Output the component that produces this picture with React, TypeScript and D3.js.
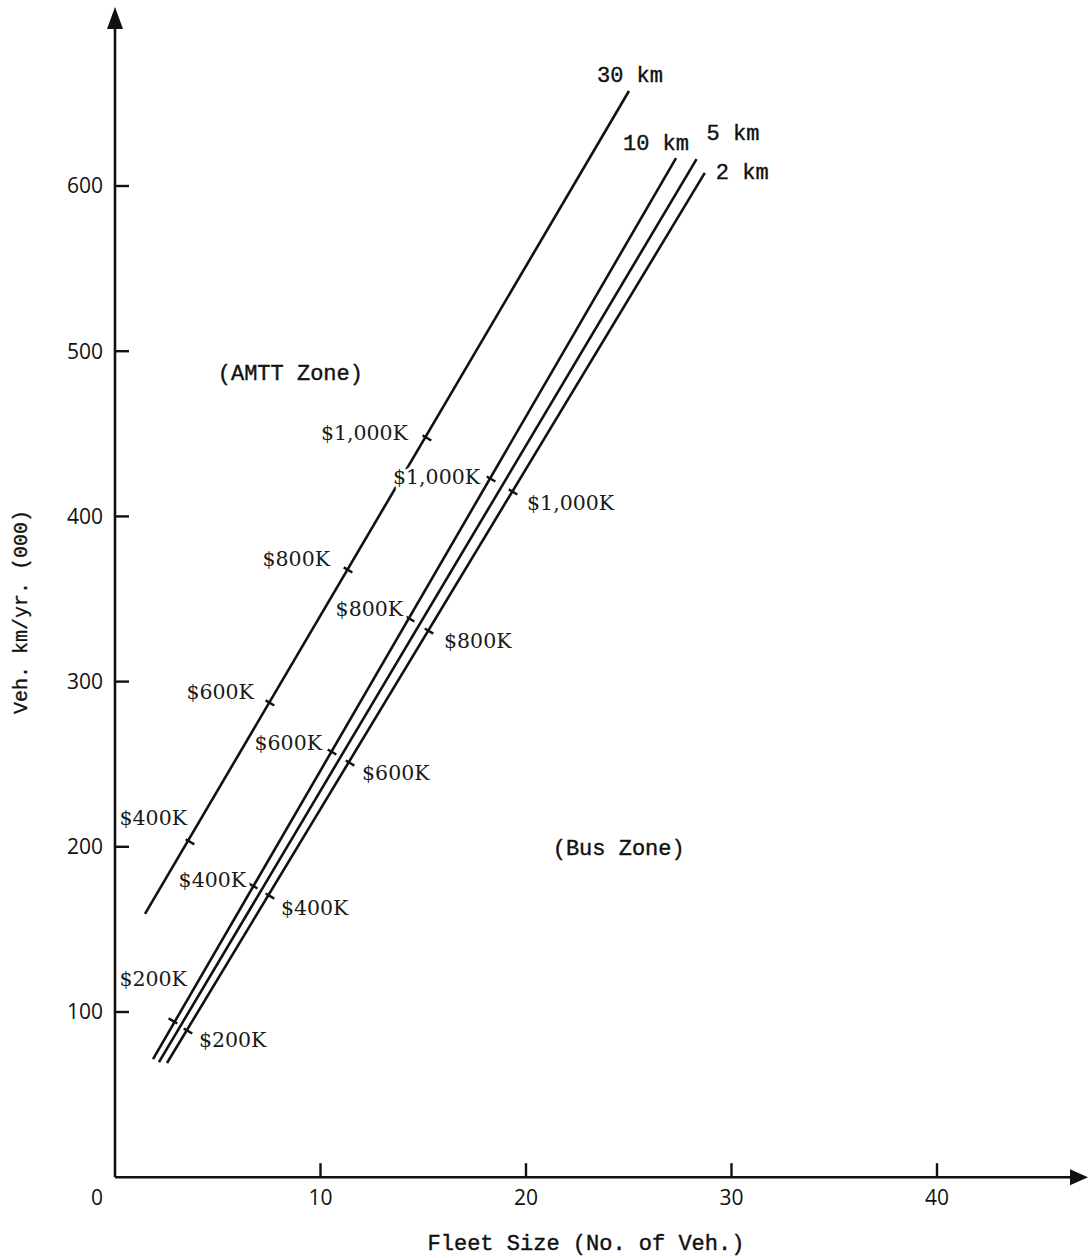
import React from "react";
import * as d3 from "d3";

// ---- Data ----
const xTicks = [10, 20, 30, 40];
const yTicks = [100, 200, 300, 400, 500, 600];

// trip-length lines: [fleet size, veh-km/yr (000)] endpoints
const seriesNames = ["30 km", "10 km", "5 km", "2 km"];
const line30 = [[1.46, 159.4], [25.01, 657.5]];
const line10 = [[1.85, 71.5], [27.3, 616.9]];
const line5 = [[2.14, 69.7], [28.3, 616.3]];
const line2 = [[2.53, 69.1], [28.7, 607.9]];

// cost markers on lines
const costs30 = ["$400K", "$600K", "$800K", "$1,000K"];
const marks30 = [[3.65, 203.0], [7.54, 287.1], [11.34, 367.6], [15.18, 447.5]];
const costs10 = ["$200K", "$400K", "$600K", "$800K", "$1,000K"];
const marks10 = [[2.82, 94.6], [6.72, 176.3], [10.56, 257.4], [14.36, 337.9], [18.3, 422.6]];
const costs2 = ["$200K", "$400K", "$600K", "$800K", "$1,000K"];
const marks2 = [[3.55, 88.5], [7.54, 170.2], [11.44, 250.7], [15.28, 330.6], [19.37, 414.8]];

const zoneLabels = ["(AMTT Zone)", "(Bus Zone)"];
const zonePos = [[5.0, 487.4], [21.3, 199.5]];

// ---- Layout (label offsets in px) ----
const off30 = [[-3, -24], [-16, -11], [-18, -11], [-19, -5]]; // right-anchored
const off10 = [[14, -42], [-7, -6], [-10, -9], [-7, -10], [-11, -2]]; // right-anchored
const off2 = [[11, 9], [11, 12], [12, 10], [15, 10], [14, 11]]; // left-anchored
const nameOff = [[-32, -17], [-53, -16], [10, -27], [11, -2]];

const W = 1088;
const H = 1258;

export default function App() {
  const x = d3.scaleLinear().domain([0, 40]).range([115, 937]);
  const y = d3.scaleLinear().domain([0, 600]).range([1177.2, 186]);
  const lineGen = d3
    .line<number[]>()
    .x((d) => x(d[0]))
    .y((d) => y(d[1]));

  const lines = [line30, line10, line5, line2];
  const x0 = x(0);
  const y0 = y(0);

  const mono = "'Liberation Mono', 'Courier New', monospace";
  const serif = "'DejaVu Serif', serif";
  const sans = "'Open Sans', 'Noto Sans', sans-serif";

  const markerTicks = (ln: number[][], marks: number[][]) => {
    const dx = x(ln[1][0]) - x(ln[0][0]);
    const dy = y(ln[1][1]) - y(ln[0][1]);
    const len = Math.hypot(dx, dy);
    const px = -dy / len;
    const py = dx / len;
    return marks.map((m, i) => {
      const cx = x(m[0]);
      const cy = y(m[1]);
      return (
        <line
          key={i}
          x1={cx - px * 5}
          y1={cy - py * 5}
          x2={cx + px * 5}
          y2={cy + py * 5}
          stroke="#111"
          strokeWidth={2.4}
        />
      );
    });
  };

  const costLabels = (
    marks: number[][],
    labels: string[],
    offs: number[][],
    anchor: string
  ) =>
    marks.map((m, i) => (
      <text
        key={i}
        x={x(m[0]) + offs[i][0]}
        y={y(m[1]) + offs[i][1]}
        dy="0.35em"
        textAnchor={anchor}
        fontFamily={serif}
        fontSize={20.5}
        fill="#1a1a1a"
        stroke="#fff"
        strokeWidth={6}
        paintOrder="stroke"
      >
        {labels[i]}
      </text>
    ));

  return (
    <svg
      width={W}
      height={H}
      style={{ position: "absolute", left: 0, top: 0, background: "#fff" }}
    >
      <rect width={W} height={H} fill="#fff" />
      {/* series lines */}
      {lines.map((ln, i) => (
        <path key={i} d={lineGen(ln) || ""} fill="none" stroke="#111" strokeWidth={2.6} />
      ))}
      {markerTicks(line30, marks30)}
      {markerTicks(line10, marks10)}
      {markerTicks(line2, marks2)}
      {costLabels(marks30, costs30, off30, "end")}
      {costLabels(marks10, costs10, off10, "end")}
      {costLabels(marks2, costs2, off2, "start")}

      {/* series names */}
      {lines.map((ln, i) => (
        <text
          key={i}
          x={x(ln[1][0]) + nameOff[i][0]}
          y={y(ln[1][1]) + nameOff[i][1]}
          dy="0.35em"
          fontFamily={mono}
          fontSize={22}
          fill="#111"
          stroke="#111"
          strokeWidth={0.4}
        >
          {seriesNames[i]}
        </text>
      ))}

      {/* zone labels */}
      {zoneLabels.map((t, i) => (
        <text
          key={i}
          x={x(zonePos[i][0])}
          y={y(zonePos[i][1])}
          dy="0.35em"
          fontFamily={mono}
          fontSize={22}
          fill="#111"
          stroke="#111"
          strokeWidth={0.4}
        >
          {t}
        </text>
      ))}

      {/* axes */}
      <line x1={x0} y1={y0} x2={x0} y2={22} stroke="#111" strokeWidth={2.6} />
      <path d={`M${x0},7 L${x0 - 8},29 L${x0 + 8},29 Z`} fill="#111" />
      <line x1={x0} y1={y0} x2={1075} y2={y0} stroke="#111" strokeWidth={2.6} />
      <path d={`M1088,${y0} L1070,${y0 - 8} L1070,${y0 + 8} Z`} fill="#111" />

      {yTicks.map((t) => (
        <g key={t}>
          <line x1={x0} x2={x0 + 14} y1={y(t)} y2={y(t)} stroke="#111" strokeWidth={2.4} />
          <text
            x={103}
            y={y(t)}
            dy="0.35em"
            textAnchor="end"
            fontFamily={sans}
            fontSize={21}
            fill="#111"
          >
            {t}
          </text>
        </g>
      ))}
      {xTicks.map((t) => (
        <g key={t}>
          <line x1={x(t)} x2={x(t)} y1={y0} y2={y0 - 14} stroke="#111" strokeWidth={2.4} />
          <text
            x={x(t)}
            y={1198}
            dy="0.35em"
            textAnchor="middle"
            fontFamily={sans}
            fontSize={21}
            fill="#111"
          >
            {t}
          </text>
        </g>
      ))}
      <text x={97} y={1198} dy="0.35em" textAnchor="middle" fontFamily={sans} fontSize={21} fill="#111">
        0
      </text>

      {/* axis titles */}
      <text
        x={586}
        y={1242}
        dy="0.35em"
        textAnchor="middle"
        fontFamily={mono}
        fontSize={22}
        fill="#111"
        stroke="#111"
        strokeWidth={0.4}
      >
        Fleet Size (No. of Veh.)
      </text>
      <text
        transform={`translate(20,612) rotate(-90)`}
        dy="0.35em"
        textAnchor="middle"
        fontFamily={mono}
        fontSize={20}
        fill="#111"
        stroke="#111"
        strokeWidth={0.3}
      >
        Veh. km/yr. (000)
      </text>
    </svg>
  );
}
